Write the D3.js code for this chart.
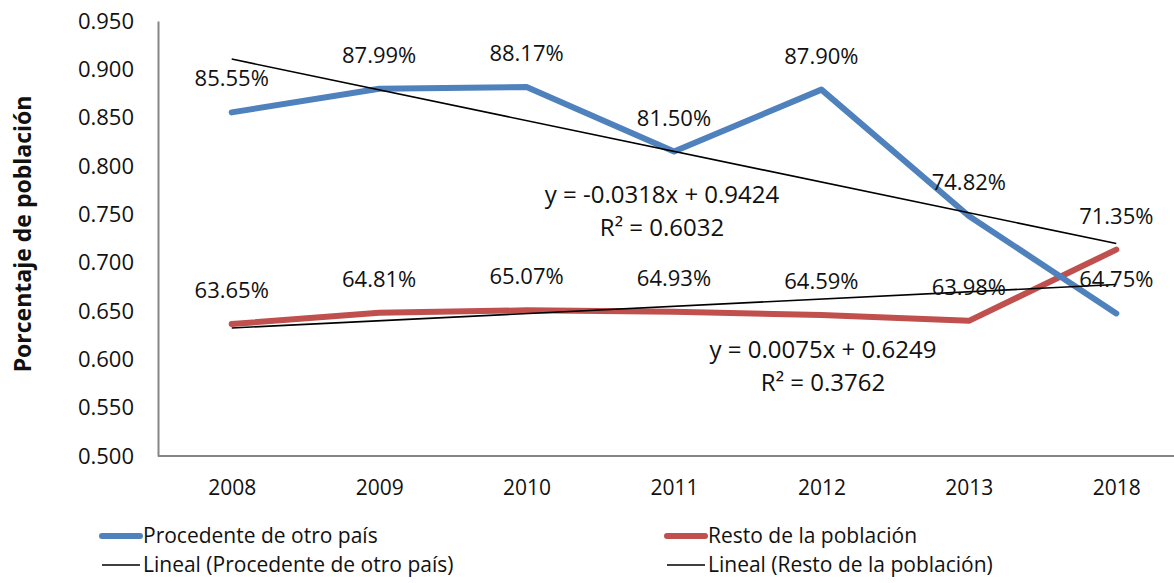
<!DOCTYPE html>
<html>
<head>
<meta charset="utf-8">
<script src="https://cdn.jsdelivr.net/npm/d3@7"></script>
<style>
  body { margin: 0; background: #fff; }
  text { font-family: "Open Sans", "Noto Sans", sans-serif; fill: #111; }
</style>
</head>
<body>
<div id="chart"></div>
<script>
var years = ['2008', '2009', '2010', '2011', '2012', '2013', '2018'];
var otroPais = [0.8555, 0.8799, 0.8817, 0.8150, 0.8790, 0.7482, 0.6475];
var restoPoblacion = [0.6365, 0.6481, 0.6507, 0.6493, 0.6459, 0.6398, 0.7135];
var yTicks = [0.500, 0.550, 0.600, 0.650, 0.700, 0.750, 0.800, 0.850, 0.900, 0.950];
// trend line coefficients (y = slope * x + intercept, x = 1..7)
var trendOtro = {slope: -0.0318, intercept: 0.9424, r2: '0.6032'};
var trendResto = {slope: 0.0075, intercept: 0.6249, r2: '0.3762'};

var margin = {top: 21, right: -16, bottom: 127, left: 158},
    width = 1174 - margin.left - margin.right,
    height = 583 - margin.top - margin.bottom;

var svg = d3.select('#chart').append('svg')
    .attr('width', 1174)
    .attr('height', 583);

var wrapper = svg.append('g')
    .attr('transform', 'translate(' + margin.left + ',' + margin.top + ')');

var xScale = d3.scalePoint().domain(years).range([0, width]).padding(0.5),
    yScale = d3.scaleLinear().domain([0.5, 0.95]).range([height, 0]);

// y axis
var yAxis = wrapper.append('g')
    .call(d3.axisLeft(yScale).tickValues(yTicks).tickFormat(d3.format('.3f')).tickSize(0).tickPadding(24));
yAxis.select('.domain').attr('stroke', '#868686').attr('stroke-width', 2);
yAxis.selectAll('text').style('font-size', '22px').attr('fill', '#111');

// x axis
var xAxis = wrapper.append('g')
    .attr('transform', 'translate(0,' + height + ')')
    .call(d3.axisBottom(xScale).tickSize(0).tickPadding(24));
xAxis.select('.domain').attr('stroke', '#868686').attr('stroke-width', 2).attr('d', 'M0,0H' + width);
xAxis.selectAll('text').style('font-size', '21px').attr('fill', '#111');

// y title
svg.append('text')
    .attr('transform', 'translate(31,' + 234 + ') rotate(-90)')
    .style('text-anchor', 'middle')
    .style('font-size', '23px')
    .style('font-weight', 'bold')
    .text('Porcentaje de población');

var line = d3.line()
    .x(function(d, i) { return xScale(years[i]); })
    .y(function(d) { return yScale(d); });

// series lines
wrapper.append('path')
    .datum(restoPoblacion)
    .attr('fill', 'none')
    .attr('stroke', '#c0504d')
    .attr('stroke-width', 6)
    .attr('stroke-linecap', 'round')
    .attr('stroke-linejoin', 'round')
    .attr('d', line);

wrapper.append('path')
    .datum(otroPais)
    .attr('fill', 'none')
    .attr('stroke', '#4f81bd')
    .attr('stroke-width', 6)
    .attr('stroke-linecap', 'round')
    .attr('stroke-linejoin', 'round')
    .attr('d', line);

// trend lines
function trendLine(t) {
  var ends = [0, years.length - 1];
  return wrapper.append('path')
      .datum(ends)
      .attr('fill', 'none')
      .attr('stroke', '#000')
      .attr('stroke-width', 1.6)
      .attr('d', d3.line()
        .x(function(i) { return xScale(years[i]); })
        .y(function(i) { return yScale(t.slope * (i + 1) + t.intercept); }));
}
trendLine(trendOtro);
trendLine(trendResto);

// data labels
function dataLabels(values) {
  wrapper.append('g').selectAll('text')
      .data(values)
    .enter().append('text')
      .attr('x', function(d, i) { return xScale(years[i]); })
      .attr('y', function(d) { return yScale(d) - 26; })
      .style('text-anchor', 'middle')
      .style('font-size', '22px')
      .text(function(d) { return d3.format('.2%')(d); });
}
dataLabels(otroPais);
dataLabels(restoPoblacion);

// equations
function equation(t, cx, cy) {
  var sign = t.intercept >= 0 ? ' + ' : ' - ';
  var g = svg.append('g').style('font-size', '24px');
  g.append('text')
      .attr('x', cx).attr('y', cy + 8)
      .style('text-anchor', 'middle')
      .text('y = ' + t.slope.toFixed(4) + 'x' + sign + Math.abs(t.intercept).toFixed(4));
  g.append('text')
      .attr('x', cx).attr('y', cy + 41)
      .style('text-anchor', 'middle')
      .text('R² = ' + t.r2);
}
equation(trendOtro, 662, 195);
equation(trendResto, 823, 350);

// legend
var legendItems = [
  {label: 'Procedente de otro país', colour: '#4f81bd', w: 6, x: 100, y: 536},
  {label: 'Resto de la población', colour: '#c0504d', w: 6, x: 665, y: 536},
  {label: 'Lineal (Procedente de otro país)', colour: '#000', w: 1.6, x: 100, y: 565},
  {label: 'Lineal (Resto de la población)', colour: '#000', w: 1.6, x: 665, y: 565}
];

var legend = svg.selectAll('.legend')
    .data(legendItems)
  .enter().append('g')
    .attr('class', 'legend')
    .attr('transform', function(d) { return 'translate(' + d.x + ',' + d.y + ')'; });

legend.append('line')
    .attr('x1', 2).attr('x2', 40)
    .attr('stroke', function(d) { return d.colour; })
    .attr('stroke-width', function(d) { return d.w; })
    .attr('stroke-linecap', function(d) { return d.w > 2 ? 'round' : 'butt'; });

legend.append('text')
    .attr('x', 43)
    .attr('dy', '.35em')
    .style('font-size', '21px')
    .text(function(d) { return d.label; });
</script>
</body>
</html>
